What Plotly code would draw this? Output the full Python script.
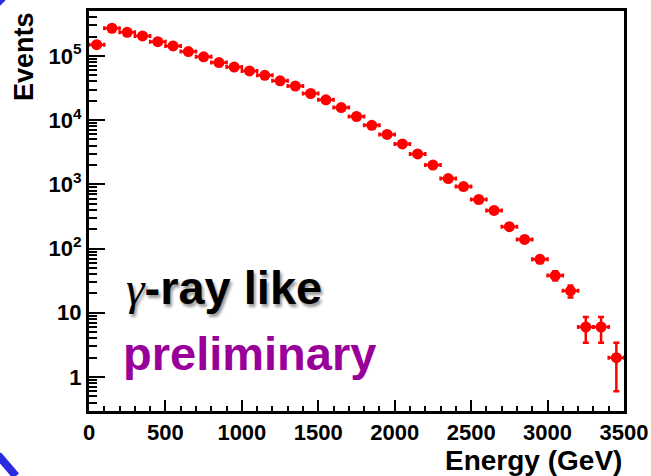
import plotly.graph_objects as go

# Data (100 GeV bins)
energy_gev = [50, 150, 250, 350, 450, 550, 650, 750, 850, 950,
              1050, 1150, 1250, 1350, 1450, 1550, 1650, 1750, 1850, 1950,
              2050, 2150, 2250, 2350, 2450, 2550, 2650, 2750, 2850, 2950,
              3050, 3150, 3250, 3350, 3450]
events = [1.5e5, 2.7e5, 2.33e5, 2.05e5, 1.67e5, 1.43e5, 1.17e5, 9.7e4, 7.9e4, 6.7e4,
          5.85e4, 5.0e4, 4.1e4, 3.4e4, 2.6e4, 2.07e4, 1.57e4, 1.14e4, 8.3e3, 6.0e3,
          4.26e3, 2.98e3, 2.0e3, 1.23e3, 925, 581, 392, 219, 139, 68,
          38, 22, 6, 6, 2]
events_err = [390, 520, 480, 450, 410, 380, 340, 310, 280, 260,
              240, 220, 200, 185, 160, 144, 125, 107, 91, 77,
              65, 55, 45, 35, 30, 24, 20, 15, 12, 8.2,
              6.2, 4.7, 2.6, 2.6, 1.4]
bin_half_width = [50] * len(energy_gev)

y_tick_vals = [1, 10, 100, 1000, 10000, 100000]
y_tick_text = ["1", "10", "10<sup>2</sup>", "10<sup>3</sup>", "10<sup>4</sup>", "10<sup>5</sup>"]
x_tick_vals = [0, 500, 1000, 1500, 2000, 2500, 3000, 3500]

W, H = 651, 476
L, R, T, B = 89, 27, 11, 65
pw, ph = W - L - R, H - T - B

def px(x):
    return (x - L) / pw

def py(y):
    return (H - B - y) / ph

fig = go.Figure()
fig.add_trace(go.Scatter(
    x=energy_gev, y=events, mode="markers",
    marker=dict(color="#ff0000", size=11, symbol="circle"),
    error_x=dict(type="data", array=bin_half_width, color="#ff0000", thickness=2.5, width=2),
    error_y=dict(type="data", array=events_err, color="#ff0000", thickness=2.5, width=3),
    showlegend=False,
))

axis_font = dict(family="Liberation Sans", size=22, color="black", weight="bold")

fig.update_layout(
    width=W, height=H,
    margin=dict(l=L, r=R, t=T, b=B, pad=0, autoexpand=False),
    paper_bgcolor="white", plot_bgcolor="white",
    xaxis=dict(
        range=[0, 3500], showgrid=False, zeroline=False, automargin=False,
        showline=True, linecolor="black", linewidth=3, mirror=True,
        ticks="inside", ticklen=11, tickwidth=1.5, tickcolor="black",
        tickvals=x_tick_vals, tickfont=axis_font,
        minor=dict(ticks="inside", ticklen=5, tickwidth=1.5, tickcolor="black", dtick=100, showgrid=False),
    ),
    yaxis=dict(
        type="log", range=[-0.53, 5.70], showgrid=False, zeroline=False, automargin=False,
        showline=True, linecolor="black", linewidth=3, mirror=True,
        ticks="inside", ticklen=16, tickwidth=1.5, tickcolor="black",
        tickvals=y_tick_vals, ticktext=y_tick_text, tickfont=axis_font,
        minor=dict(ticks="inside", ticklen=8, tickwidth=1.5, tickcolor="black", dtick="D1", showgrid=False),
    ),
    annotations=[
        dict(text="<b>Events</b>", xref="paper", yref="paper", x=px(24), y=py(57),
             textangle=-90, showarrow=False, xanchor="center", yanchor="middle",
             font=dict(family="Liberation Sans", size=27, color="black")),
        dict(text="<b>Energy (GeV)</b>", xref="paper", yref="paper", x=px(624), y=py(460),
             showarrow=False, xanchor="right", yanchor="middle",
             font=dict(family="Liberation Sans", size=28, color="black")),
        dict(text="<span style='font-family:Liberation Serif'><i>γ</i></span><b>-ray like</b>",
             xref="paper", yref="paper", x=px(124), y=py(287),
             showarrow=False, xanchor="left", yanchor="middle",
             font=dict(family="Liberation Sans", size=47, color="black", shadow="2px 3px 3px #999999")),
        dict(text="<b>preliminary</b>", xref="paper", yref="paper", x=px(121), y=py(353),
             showarrow=False, xanchor="left", yanchor="middle",
             font=dict(family="Liberation Sans", size=47, color="#990099")),
    ],
    shapes=[
        dict(type="line", xref="paper", yref="paper", x0=px(-2), y0=py(455), x1=px(16), y1=py(476),
             line=dict(color="#2a2adf", width=8)),
        dict(type="line", xref="paper", yref="paper", x0=px(-2), y0=py(5), x1=px(4), y1=py(-1),
             line=dict(color="#2a2adf", width=4)),
    ],
)

fig.write_html("out.html", config={"displayModeBar": False},
               post_script="document.body.style.margin='0';document.body.style.overflow='hidden';")
